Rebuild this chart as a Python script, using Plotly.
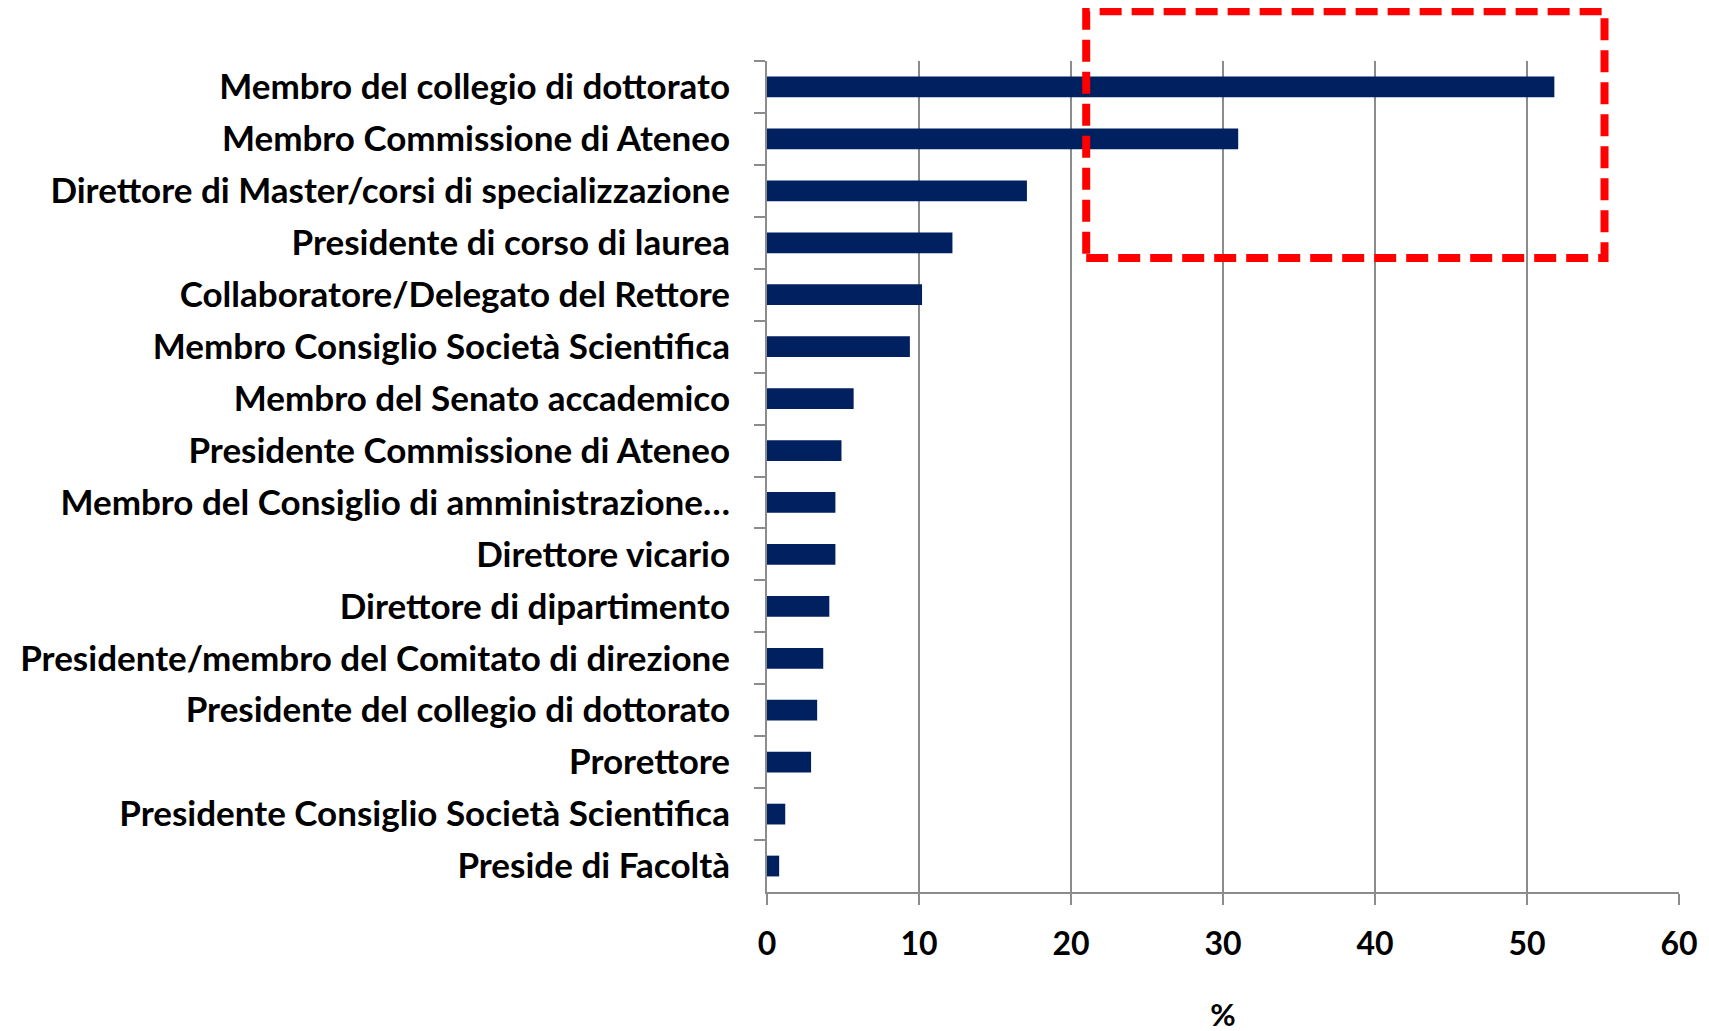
import plotly.graph_objects as go

categories = [
    "Membro del collegio di dottorato",
    "Membro Commissione di Ateneo",
    "Direttore di Master/corsi di specializzazione",
    "Presidente di corso di laurea",
    "Collaboratore/Delegato del Rettore",
    "Membro Consiglio Società Scientifica",
    "Membro del Senato accademico",
    "Presidente Commissione di Ateneo",
    "Membro del Consiglio di amministrazione…",
    "Direttore vicario",
    "Direttore di dipartimento",
    "Presidente/membro del Comitato di direzione",
    "Presidente del collegio di dottorato",
    "Prorettore",
    "Presidente Consiglio Società Scientifica",
    "Preside di Facoltà",
]
values = [51.8, 31.0, 17.1, 12.2, 10.2, 9.4, 5.7, 4.9, 4.5, 4.5, 4.1, 3.7, 3.3, 2.9, 1.2, 0.8]
x_ticks = [0, 10, 20, 30, 40, 50, 60]
x_title = "%"

FONT = "Lato"
GRAY = "#8c8c8c"

fig = go.Figure(go.Bar(
    x=values, y=categories, orientation="h",
    marker=dict(color="#002060", line=dict(width=0)),
    width=0.4,
))

fig.update_layout(
    width=1709, height=1031,
    margin=dict(l=754, r=38, t=53, b=146),
    plot_bgcolor="white", paper_bgcolor="white",
    showlegend=False,
    font=dict(family=FONT, color="black"),
    xaxis=dict(
        range=[0, 60], tickvals=x_ticks, ticktext=[str(t) for t in x_ticks],
        showgrid=True, gridcolor=GRAY, gridwidth=1.5,
        zeroline=False, showline=True, linecolor=GRAY, linewidth=2,
        ticks="outside", ticklen=11, tickcolor=GRAY, tickwidth=2,
        tickfont=dict(family=FONT, size=32, color="black", weight="bold"),
        ticklabelstandoff=12,
        title=dict(text="<b>%s</b>" % x_title, font=dict(family=FONT, size=31, color="black"), standoff=43),
    ),
    yaxis=dict(
        autorange="reversed", categoryorder="array", categoryarray=categories,
        showgrid=False, zeroline=False, showline=True, linecolor=GRAY, linewidth=2,
        ticks="outside", ticklen=11, tickcolor=GRAY, tickwidth=2, tickson="boundaries",
        tickfont=dict(family=FONT, size=35, color="black", weight="bold"),
        ticklabelstandoff=28,
    ),
    shapes=[dict(
        type="rect", xref="x", yref="paper",
        x0=21.0, x1=55.1, y0=0.763, y1=1.06,
        line=dict(color="#ff0000", width=8, dash="22px,10px"),
        fillcolor="rgba(0,0,0,0)", layer="above",
    )],
)

fig.write_html("out.html")
